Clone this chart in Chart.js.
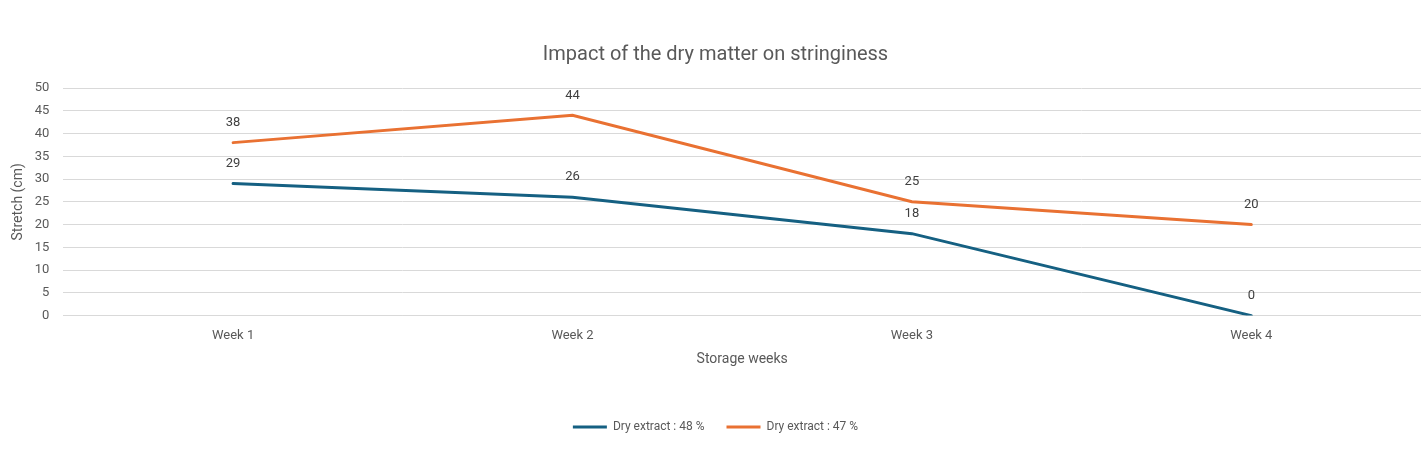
<!DOCTYPE html>
<html>
<head>
<meta charset="utf-8">
<script src="https://cdn.jsdelivr.net/npm/chart.js@4/dist/chart.umd.min.js"></script>
<style>
  html, body { margin: 0; padding: 0; background: #fff; }
  #wrap { width: 1421px; height: 475px; position: relative; }
</style>
</head>
<body>
<div id="wrap"><canvas id="myChart"></canvas></div>
<script>
var weeks = ['Week 1', 'Week 2', 'Week 3', 'Week 4'];
var dry48 = [29, 26, 18, 0];
var dry47 = [38, 44, 25, 20];
var seriesNames = ['Dry extract : 48 %', 'Dry extract : 47 %'];
var yTicks = [0, 5, 10, 15, 20, 25, 30, 35, 40, 45, 50];

var textColor = '#595959';
var fontFamily = 'Roboto, "Open Sans", sans-serif';

// values written just above each point
var pointLabels = {
    id: 'pointLabels',
    afterDatasetsDraw: function(chart) {
        var ctx = chart.ctx;
        ctx.save();
        ctx.font = '13px ' + fontFamily;
        ctx.fillStyle = '#404040';
        ctx.textAlign = 'center';
        ctx.textBaseline = 'middle';
        chart.data.datasets.forEach(function(ds, i) {
            chart.getDatasetMeta(i).data.forEach(function(pt, j) {
                ctx.fillText(ds.data[j], pt.x, pt.y - 20);
            });
        });
        ctx.restore();
    }
};

window.onload = function() {
    var ctx = document.getElementById('myChart').getContext('2d');
    var myChart = new Chart(ctx, {
        type: 'line',
        data: {
            labels: weeks,
            datasets: [{
                label: seriesNames[0],
                data: dry48,
                borderColor: '#156082',
                backgroundColor: '#156082',
                borderWidth: 3,
                pointRadius: 0,
                borderCapStyle: 'round',
                tension: 0
            },
            {
                label: seriesNames[1],
                data: dry47,
                borderColor: '#E97132',
                backgroundColor: '#E97132',
                borderWidth: 3,
                pointRadius: 0,
                borderCapStyle: 'round',
                tension: 0
            }]
        },
        options: {
            responsive: true,
            maintainAspectRatio: false,
            animation: false,
            layout: { padding: { top: 0, right: 0, bottom: 32, left: 10 } },
            plugins: {
                title: {
                    display: true,
                    text: 'Impact of the dry matter on stringiness',
                    color: textColor,
                    font: { family: fontFamily, size: 20, weight: 'normal' },
                    padding: { top: 43, bottom: 21 }
                },
                legend: {
                    position: 'bottom',
                    labels: {
                        usePointStyle: true,
                        pointStyle: 'line',
                        pointStyleWidth: 34,
                        color: textColor,
                        font: { family: fontFamily, size: 12 },
                        padding: 22
                    }
                },
                tooltip: { enabled: false }
            },
            scales: {
                x: {
                    offset: true,
                    grid: { display: false, drawTicks: false },
                    border: { display: true, color: '#d9d9d9' },
                    ticks: { color: textColor, font: { family: fontFamily, size: 13 }, padding: 12 },
                    title: {
                        display: true,
                        text: 'Storage weeks',
                        color: textColor,
                        font: { family: fontFamily, size: 14 },
                        padding: { top: -4, bottom: 31 }
                    }
                },
                y: {
                    min: 0,
                    max: 50,
                    afterBuildTicks: function(axis) {
                        axis.ticks = yTicks.map(function(v) { return { value: v }; });
                    },
                    grid: { color: '#d9d9d9', drawTicks: false },
                    border: { display: false },
                    ticks: { color: textColor, font: { family: fontFamily, size: 13 }, padding: 14 },
                    title: {
                        display: true,
                        text: 'Stretch (cm)',
                        color: textColor,
                        font: { family: fontFamily, size: 14 },
                        padding: { top: 0, bottom: -6 }
                    }
                }
            }
        },
        plugins: [pointLabels]
    });
};
</script>
</body>
</html>
